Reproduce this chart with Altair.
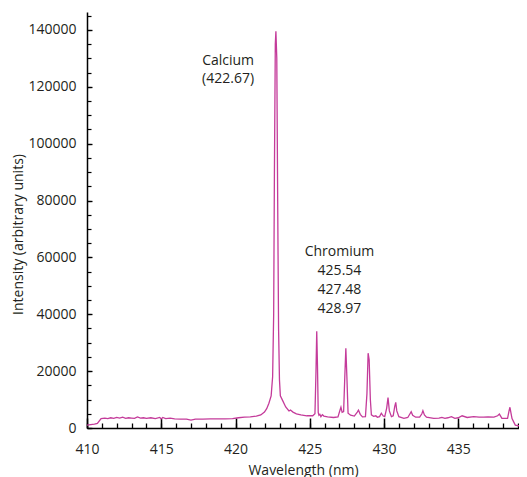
import altair as alt
import pandas as pd

# Spectrum
wavelength = [
    410.0, 410.5, 410.7, 410.95, 411.2, 411.4, 411.6, 411.8, 412.0, 412.2, 412.4, 412.6,
    412.8, 413.0, 413.2, 413.4, 413.6, 413.8, 414.0, 414.3, 414.6, 414.9, 415.0, 415.1,
    415.3, 415.6, 415.9, 416.3, 416.7, 417.0, 417.3, 417.8, 418.3, 418.8, 419.3, 419.8,
    420.2, 420.6, 421.0, 421.4, 421.7, 421.95, 422.1, 422.25, 422.4, 422.5, 422.57, 422.62,
    422.68, 422.72, 422.78, 422.84, 422.9, 422.96, 423.02, 423.16, 423.38, 423.6, 423.7, 423.87,
    424.1, 424.4, 424.8, 425.2, 425.35, 425.42, 425.47, 425.52, 425.57, 425.62, 425.68, 425.75,
    425.85, 425.95, 426.2, 426.6, 426.9, 427.05, 427.1, 427.18, 427.28, 427.36, 427.43, 427.5,
    427.58, 427.75, 428.0, 428.2, 428.28, 428.4, 428.55, 428.75, 428.85, 428.93, 429.0, 429.08,
    429.15, 429.3, 429.45, 429.55, 429.7, 429.82, 429.95, 430.05, 430.18, 430.27, 430.36, 430.5,
    430.62, 430.72, 430.79, 430.86, 431.0, 431.34, 431.6, 431.75, 431.83, 431.93, 432.13, 432.4,
    432.55, 432.62, 432.72, 432.86, 433.35, 433.7, 433.9, 434.1, 434.3, 434.54, 434.77, 435.0,
    435.26, 435.6, 436.04, 436.4, 436.7, 437.0, 437.4, 437.65, 437.77, 437.94, 438.32, 438.42,
    438.48, 438.56, 438.62, 438.84, 439.06, 439.5,
]
intensity = [
    1000, 1400, 1600, 3300, 3500, 3300, 3600, 3400, 3700, 3500, 3800, 3400,
    3600, 3500, 3400, 3900, 3500, 3600, 3400, 3600, 3300, 3700, 3200, 3700,
    3300, 3500, 3200, 3100, 3100, 2800, 3100, 3100, 3200, 3200, 3200, 3300,
    3600, 3800, 3900, 4200, 4600, 5600, 6800, 8700, 11300, 18000, 40000, 90000,
    135000, 139500, 130000, 80000, 35000, 17000, 11300, 9800, 7400, 6000, 6300, 5600,
    5000, 4600, 4300, 4300, 5000, 20000, 34000, 22000, 5500, 4500, 4800, 4000,
    4700, 4200, 3900, 3700, 3900, 6500, 7300, 5500, 5800, 18000, 28000, 18000,
    5200, 4500, 4200, 5600, 6300, 4800, 3900, 4000, 12000, 26300, 24000, 10000,
    4600, 4100, 4300, 3800, 4000, 5200, 4200, 4000, 7000, 10700, 6000, 4000,
    4300, 7500, 9000, 6000, 4000, 3400, 3700, 5000, 5700, 4500, 3800, 3800,
    5000, 6100, 4600, 3800, 3400, 3500, 3700, 3400, 3600, 4000, 3400, 3600,
    4300, 3700, 4000, 3800, 3800, 3900, 3800, 4300, 4900, 3400, 3400, 6000,
    7300, 5000, 3300, 1000, 800, 800,
]

# Annotations
note_text = ["Calcium", "(422.67)", "Chromium", "425.54", "427.48", "428.97"]
note_x = [419.5, 419.5, 427.0, 427.0, 427.0, 427.0]
note_y = [129000, 122700, 61900, 55300, 48600, 41900]

# Tick values
x_major = [410, 415, 420, 425, 430, 435]
x_minor = list(range(410, 440))
y_major = [0, 20000, 40000, 60000, 80000, 100000, 120000, 140000]
y_minor = list(range(0, 146000, 5000))

W, H = 432, 416
XDOM = [410, 439.09]
YDOM = [0, 146300]
FONT = "Open Sans"
TXT = "#231f20"
LINE = "#c43b9a"

spec = pd.DataFrame({"wl": wavelength, "inten": intensity})
notes = pd.DataFrame({"x": note_x, "y": note_y, "t": note_text})

xs = alt.Scale(domain=XDOM, nice=False, zero=False)
ys = alt.Scale(domain=YDOM, nice=False, zero=False)

main = alt.Chart(spec).mark_line(color=LINE, strokeWidth=1.3, clip=True).encode(
    x=alt.X("wl:Q", scale=xs, axis=alt.Axis(
        orient="bottom", title="Wavelength (nm)", values=x_major, ticks=False, format="d",
        labelFlush=False, labelPadding=25, labelBaseline="alphabetic",
        domainColor="black", domainWidth=1.5,
        labelColor=TXT, titleColor=TXT, titleY=46, titleBaseline="alphabetic")),
    y=alt.Y("inten:Q", scale=ys, axis=alt.Axis(
        orient="left", title="Intensity (arbitrary units)", values=y_major, ticks=False,
        format="d", labelFlush=False, labelPadding=11, domainColor="black", domainWidth=1.5,
        labelColor=TXT, titleColor=TXT, titleX=-62, titleY=222)),
)

major_ticks = alt.Chart(spec).mark_line(strokeOpacity=0).encode(
    x=alt.X("wl:Q", scale=xs, axis=alt.Axis(
        orient="top", offset=-H, values=x_major, labels=False, domain=False,
        tickSize=10, tickColor="black", tickWidth=1.5, title=None)),
    y=alt.Y("inten:Q", scale=ys, axis=alt.Axis(
        orient="right", offset=-W, values=y_major, labels=False, domain=False,
        tickSize=5, tickColor="black", tickWidth=1.3, title=None)),
)

minor_ticks = alt.Chart(spec).mark_line(strokeOpacity=0).encode(
    x=alt.X("wl:Q", scale=xs, axis=alt.Axis(
        orient="top", offset=-H, values=x_minor, labels=False, domain=False,
        tickSize=5, tickColor="black", tickWidth=1.3, title=None)),
    y=alt.Y("inten:Q", scale=ys, axis=alt.Axis(
        orient="right", offset=-W, values=y_minor, labels=False, domain=False,
        tickSize=4, tickColor="black", tickWidth=1.2, title=None)),
)

text = alt.Chart(notes).mark_text(font=FONT, fontSize=14, color=TXT, align="center", baseline="middle").encode(
    x=alt.X("x:Q", scale=xs, axis=None),
    y=alt.Y("y:Q", scale=ys, axis=None),
    text="t:N",
)

chart = alt.layer(minor_ticks, major_ticks, main, text).resolve_axis(
    x="independent", y="independent"
).properties(
    width=W, height=H,
    autosize=alt.AutoSizeParams(type="none"),
    padding={"left": 79, "top": 4, "right": 0, "bottom": 49},
).configure_view(stroke=None).configure_axis(
    grid=False, labelFont=FONT, titleFont=FONT, labelFontSize=14, titleFontSize=14,
    titleFontWeight="normal",
)

chart.save("out.html", embed_options={"renderer": "svg", "actions": False})
